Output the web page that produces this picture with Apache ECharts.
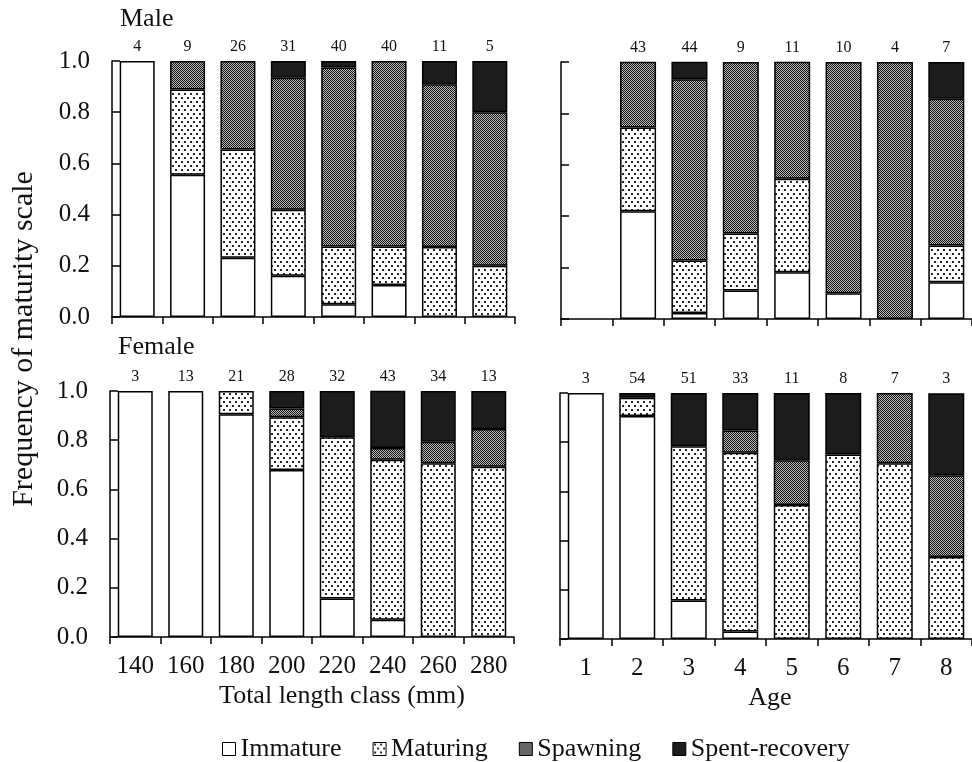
<!DOCTYPE html>
<html>
<head>
<meta charset="utf-8">
<script src="https://cdn.jsdelivr.net/npm/echarts@6/dist/echarts.min.js"></script>
<style>
html,body{margin:0;padding:0;background:#fff;}
#chart{width:972px;height:762px;}
</style>
</head>
<body>
<div id="chart"></div>
<script>
// ---------- data ----------
const stageNames = ['Immature', 'Maturing', 'Spawning', 'Spent-recovery'];

const lengthClasses = ['140', '160', '180', '200', '220', '240', '260', '280'];
const ageClasses = ['1', '2', '3', '4', '5', '6', '7', '8'];
const yTickLabels = ['0.0', '0.2', '0.4', '0.6', '0.8', '1.0'];

// Male by total length class
const maleLenN = ['4', '9', '26', '31', '40', '40', '11', '5'];
const maleLenImm   = [1, 0.556, 0.231, 0.161, 0.05, 0.125, 0, 0];
const maleLenMat   = [0, 0.333, 0.423, 0.258, 0.225, 0.15, 0.273, 0.2];
const maleLenSpa   = [0, 0.111, 0.346, 0.516, 0.7, 0.725, 0.636, 0.6];
const maleLenSpent = [0, 0, 0, 0.065, 0.025, 0, 0.091, 0.2];

// Male by age
const maleAgeN = ['', '43', '44', '9', '11', '10', '4', '7'];
const maleAgeImm   = [0, 0.419, 0.023, 0.111, 0.182, 0.1, 0, 0.143];
const maleAgeMat   = [0, 0.326, 0.205, 0.222, 0.364, 0, 0, 0.143];
const maleAgeSpa   = [0, 0.256, 0.705, 0.667, 0.455, 0.9, 1, 0.571];
const maleAgeSpent = [0, 0, 0.068, 0, 0, 0, 0, 0.143];

// Female by total length class
const femLenN = ['3', '13', '21', '28', '32', '43', '34', '13'];
const femLenImm   = [1, 1, 0.905, 0.679, 0.156, 0.07, 0, 0];
const femLenMat   = [0, 0, 0.095, 0.214, 0.656, 0.651, 0.706, 0.692];
const femLenSpa   = [0, 0, 0, 0.036, 0, 0.047, 0.088, 0.154];
const femLenSpent = [0, 0, 0, 0.071, 0.188, 0.233, 0.206, 0.154];

// Female by age
const femAgeN = ['3', '54', '51', '33', '11', '8', '7', '3'];
const femAgeImm   = [1, 0.907, 0.157, 0.03, 0, 0, 0, 0];
const femAgeMat   = [0, 0.074, 0.627, 0.727, 0.545, 0.75, 0.714, 0.333];
const femAgeSpa   = [0, 0, 0, 0.091, 0.182, 0, 0.286, 0.333];
const femAgeSpent = [0, 0.019, 0.216, 0.152, 0.273, 0.25, 0, 0.333];

// ---------- patterns ----------
function dotPattern() {
  const c = document.createElement('canvas');
  c.width = 6; c.height = 8;
  const g = c.getContext('2d');
  g.fillStyle = '#fff'; g.fillRect(0, 0, 6, 8);
  g.fillStyle = '#2a2a2a';
  g.fillRect(1, 1, 2, 2);
  g.fillRect(4, 5, 2, 2);
  return c;
}
function checkPattern() {
  const c = document.createElement('canvas');
  c.width = 2; c.height = 2;
  const g = c.getContext('2d');
  g.fillStyle = '#bcbcbc'; g.fillRect(0, 0, 2, 2);
  g.fillStyle = '#111';
  g.fillRect(0, 0, 1, 1);
  g.fillRect(1, 1, 1, 1);
  return c;
}
const stageColors = [
  '#ffffff',
  { image: dotPattern(), repeat: 'repeat' },
  { image: checkPattern(), repeat: 'repeat' },
  '#1c1c1c'
];

// ---------- layout ----------
const FONT = 'Liberation Serif';
const grids = [
  { left: 112, top: 61, width: 403, height: 256 },
  { left: 561, top: 62, width: 420, height: 257 },
  { left: 110, top: 391, width: 404, height: 246 },
  { left: 560, top: 393, width: 420, height: 246 }
];
const panels = [
  { cats: lengthClasses, n: maleLenN, vals: [maleLenImm, maleLenMat, maleLenSpa, maleLenSpent], showX: false, showY: true, name: '', namePad: 0 },
  { cats: ageClasses, n: maleAgeN, vals: [maleAgeImm, maleAgeMat, maleAgeSpa, maleAgeSpent], showX: false, showY: false, name: '', namePad: 0 },
  { cats: lengthClasses, n: femLenN, vals: [femLenImm, femLenMat, femLenSpa, femLenSpent], showX: true, showY: true, name: 'Total length class (mm)', namePad: 60 },
  { cats: ageClasses, n: femAgeN, vals: [femAgeImm, femAgeMat, femAgeSpa, femAgeSpent], showX: true, showY: false, name: 'Age', namePad: 8 }
];

const xAxis = [], yAxis = [], series = [];
panels.forEach((p, i) => {
  xAxis.push({
    type: 'category', gridIndex: i, data: p.cats, position: 'bottom',
    axisLine: { show: true, lineStyle: { color: '#000', width: 1.5 } },
    axisTick: { show: true, length: 7, lineStyle: { color: '#000', width: 1.5 } },
    axisLabel: { show: p.showX, fontFamily: FONT, fontSize: 25, color: '#111', margin: 17 },
    name: p.name, nameLocation: 'middle', nameGap: 46,
    nameTextStyle: { fontFamily: FONT, fontSize: 26, color: '#111', padding: [0, 0, 0, p.namePad] }
  });
  yAxis.push({
    type: 'value', gridIndex: i, min: 0, max: 1, interval: 0.2,
    axisLine: { show: true, lineStyle: { color: '#000', width: 1.5 } },
    axisTick: { show: true, inside: true, length: 8, lineStyle: { color: '#000', width: 1.5 } },
    axisLabel: { show: p.showY, fontFamily: FONT, fontSize: 25, color: '#111', margin: 22,
      formatter: v => yTickLabels[Math.round(v * 5)] },
    splitLine: { show: false }
  });
});
// top axes with sample sizes
panels.forEach((p, i) => {
  xAxis.push({
    type: 'category', gridIndex: i, data: p.n, position: 'top',
    axisLine: { show: false }, axisTick: { show: false },
    axisLabel: { show: true, fontFamily: FONT, fontSize: 16, color: '#111', margin: 6, interval: 0 }
  });
});
panels.forEach((p, i) => {
  p.vals.forEach((arr, s) => {
    series.push({
      name: stageNames[s], type: 'bar', stack: 'p' + i,
      xAxisIndex: i, yAxisIndex: i,
      barWidth: i % 2 === 0 ? 35 : 36,
      data: arr.map(v => (v > 0 ? v : null)),
      itemStyle: { color: stageColors[s], borderColor: '#000', borderWidth: 1.5 },
      emphasis: { disabled: true },
      animation: false
    });
  });
});

const chart = echarts.init(document.getElementById('chart'), null, { renderer: 'canvas' });
chart.setOption({
  backgroundColor: '#fff',
  animation: false,
  grid: grids,
  xAxis: xAxis,
  yAxis: yAxis,
  series: series,
  legend: {
    data: stageNames, left: 217, top: 731,
    icon: 'rect', itemWidth: 13, itemHeight: 13, itemGap: 31,
    itemStyle: { borderColor: '#000', borderWidth: 1 },
    textStyle: { fontFamily: FONT, fontSize: 26, color: '#111' },
    selectedMode: false
  },
  graphic: [
    { type: 'text', left: 120, top: 6, style: { text: 'Male', font: '26px "Liberation Serif"', fill: '#111' } },
    { type: 'text', left: 118, top: 334, style: { text: 'Female', font: '26px "Liberation Serif"', fill: '#111' } },
    { type: 'text', x: 24, y: 339, rotation: Math.PI / 2,
      style: { text: 'Frequency of maturity scale', font: '30px "Liberation Serif"', fill: '#111',
        align: 'center', verticalAlign: 'middle' } }
  ]
});
</script>
</body>
</html>
